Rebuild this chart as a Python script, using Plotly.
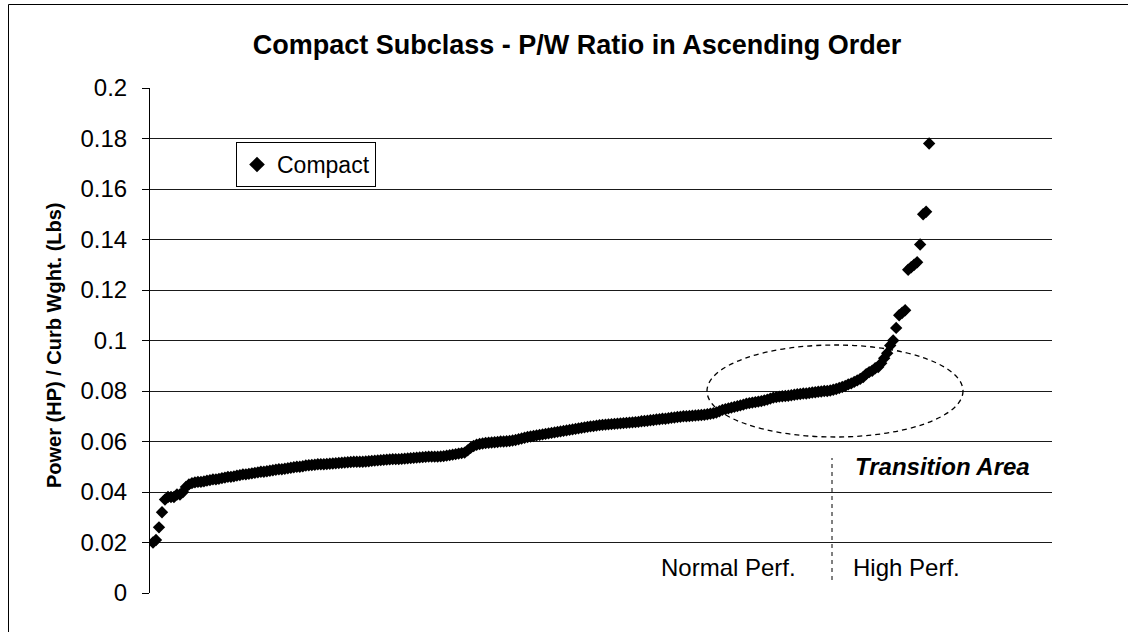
import plotly.graph_objects as go

# ---------------- data ----------------
pw_ratio = [
    0.020, 0.021, 0.026, 0.032, 0.037, 0.038, 0.038, 0.038, 0.039, 0.039,
    0.040, 0.042, 0.043, 0.0435, 0.0438, 0.044, 0.044, 0.0442, 0.0445, 0.0447,
    0.045, 0.045, 0.0452, 0.0455, 0.0457, 0.046, 0.046, 0.0462, 0.0465, 0.0467,
    0.047, 0.047, 0.0472, 0.0474, 0.0476, 0.0478, 0.048, 0.048, 0.0482, 0.0484,
    0.0486, 0.0488, 0.049, 0.049, 0.0492, 0.0494, 0.0496, 0.0498, 0.050, 0.050,
    0.0502, 0.0505, 0.0506, 0.0507, 0.0508, 0.051, 0.051, 0.051, 0.0511, 0.0512,
    0.0513, 0.0514, 0.0515, 0.0516, 0.0517, 0.0518, 0.0519, 0.052, 0.052, 0.052,
    0.052, 0.0521, 0.0522, 0.0523, 0.0524, 0.0525, 0.0526, 0.0527, 0.0528, 0.0529,
    0.053, 0.053, 0.053, 0.0531, 0.0532, 0.0533, 0.0534, 0.0535, 0.0536, 0.0537,
    0.0538, 0.0539, 0.054, 0.054, 0.054, 0.054, 0.0541, 0.0542, 0.0544, 0.0546,
    0.0548, 0.055, 0.0552, 0.0554, 0.0556, 0.0565, 0.0575, 0.0582, 0.0587, 0.059,
    0.0592, 0.0594, 0.0595, 0.0596, 0.0597, 0.0598, 0.060, 0.060, 0.0601, 0.0602,
    0.0604, 0.0606, 0.0609, 0.0612, 0.0615, 0.0618, 0.062, 0.0622, 0.0624, 0.0626,
    0.0628, 0.063, 0.0632, 0.0634, 0.0636, 0.0638, 0.064, 0.0642, 0.0644, 0.0646,
    0.0648, 0.065, 0.0652, 0.0654, 0.0656, 0.0658, 0.066, 0.0661, 0.0663, 0.0665,
    0.0666, 0.0667, 0.0668, 0.0669, 0.067, 0.0671, 0.0672, 0.0673, 0.0674, 0.0675,
    0.0676, 0.0677, 0.0678, 0.068, 0.0681, 0.0682, 0.0684, 0.0685, 0.0687, 0.0688,
    0.069, 0.069, 0.0692, 0.0694, 0.0695, 0.0697, 0.0698, 0.070, 0.070, 0.0701,
    0.0702, 0.0703, 0.0704, 0.0705, 0.0706, 0.0708, 0.071, 0.0712, 0.0715, 0.072,
    0.0725, 0.0728, 0.0731, 0.0734, 0.0737, 0.074, 0.0743, 0.0746, 0.075, 0.0752,
    0.0754, 0.0756, 0.0758, 0.076, 0.0763, 0.0766, 0.077, 0.0774, 0.0776, 0.0778,
    0.0779, 0.078, 0.0781, 0.0783, 0.0785, 0.0787, 0.0788, 0.079, 0.079, 0.0792,
    0.0794, 0.0795, 0.0797, 0.0798, 0.080, 0.080, 0.0802, 0.0805, 0.0808, 0.0812,
    0.0816, 0.082, 0.0826, 0.083, 0.0836, 0.0842, 0.0848, 0.0855, 0.0867, 0.0875,
    0.088, 0.089, 0.0895, 0.091, 0.093, 0.095, 0.098, 0.100, 0.105, 0.110,
    0.111, 0.112, 0.128, 0.129, 0.130, 0.131, 0.138, 0.150, 0.151, 0.178,
]
rank = list(range(1, len(pw_ratio) + 1))
series_name = "Compact"
y_ticks = [0, 0.02, 0.04, 0.06, 0.08, 0.1, 0.12, 0.14, 0.16, 0.18, 0.2]
y_tick_labels = ["0", "0.02", "0.04", "0.06", "0.08", "0.1", "0.12", "0.14", "0.16", "0.18", "0.2"]

# ---------------- layout geometry ----------------
W, H = 1128, 632
L, R, T, B = 150, 1052, 88, 593          # plot area in pixels
X_MAX = 301
FONT = "Liberation Sans, Arial, sans-serif"


def px(xp):      # pixel x -> paper
    return (xp - L) / (R - L)


def py(yp):      # pixel y -> paper
    return (B - yp) / (B - T)


fig = go.Figure()
fig.add_trace(go.Scatter(
    x=rank, y=pw_ratio, mode="markers", name=series_name,
    marker=dict(symbol="diamond", size=9.5, color="black", line=dict(width=0)),
))

shapes = [
    # outer chart border
    dict(type="rect", xref="paper", yref="paper",
         x0=px(8.5), x1=px(1135), y0=py(640), y1=py(4.5),
         line=dict(color="black", width=1), fillcolor="rgba(0,0,0,0)"),
    # transition ellipse
    dict(type="circle", xref="paper", yref="paper",
         x0=px(707), x1=px(963), y0=py(437), y1=py(345),
         line=dict(color="black", width=1.3, dash="5px,4px")),
    # vertical divider
    dict(type="line", xref="paper", yref="paper",
         x0=px(832), x1=px(832), y0=py(580), y1=py(458),
         line=dict(color="black", width=1, dash="4px,4px")),
]

annotations = [
    dict(text="<b><i>Transition Area</i></b>", xref="paper", yref="paper",
         x=px(942), y=py(466), xanchor="center", yanchor="middle", showarrow=False,
         font=dict(size=24, color="black", family=FONT)),
    dict(text="Normal Perf.", xref="paper", yref="paper",
         x=px(728), y=py(567), xanchor="center", yanchor="middle", showarrow=False,
         font=dict(size=24, color="black", family=FONT)),
    dict(text="High Perf.", xref="paper", yref="paper",
         x=px(906), y=py(567), xanchor="center", yanchor="middle", showarrow=False,
         font=dict(size=24, color="black", family=FONT)),
    dict(text="<b>Power (HP) / Curb Wght. (Lbs)</b>", xref="paper", yref="paper",
         x=px(54), y=py(345), xanchor="center", yanchor="middle", showarrow=False,
         textangle=-90, font=dict(size=20, color="black", family=FONT)),
]

fig.update_layout(
    width=W, height=H,
    margin=dict(l=L, r=W - R, t=T, b=H - B, pad=0, autoexpand=False),
    paper_bgcolor="white", plot_bgcolor="white",
    font=dict(family=FONT, color="black"),
    title=dict(text="<b>Compact Subclass - P/W Ratio in Ascending Order</b>",
               x=577 / W, y=1 - 45 / H, xref="container", yref="container",
               xanchor="center", yanchor="middle",
               font=dict(size=27, color="black", family=FONT)),
    showlegend=True,
    legend=dict(x=px(236), y=py(142), xanchor="left", yanchor="top",
                bordercolor="black", borderwidth=1, bgcolor="white",
                font=dict(size=23, color="black", family=FONT),
                itemsizing="constant"),
    shapes=shapes,
    annotations=annotations,
)

fig.update_xaxes(range=[0, X_MAX], showgrid=False, zeroline=False,
                 showticklabels=False, ticks="", showline=False)
fig.update_yaxes(range=[0, 0.2], tickvals=y_ticks, ticktext=y_tick_labels,
                 showgrid=True, gridcolor="#1a1a1a", gridwidth=1,
                 zeroline=False, showline=True, linecolor="black", linewidth=1,
                 ticks="outside", ticklen=7, tickcolor="black",
                 ticklabelstandoff=10,
                 tickfont=dict(size=24, color="black", family=FONT))

# remove the browser's default 8px page margin so the figure sits at (0, 0)
fig.write_html("out.html", config={"displayModeBar": False},
               post_script="document.body.style.margin='0';")
